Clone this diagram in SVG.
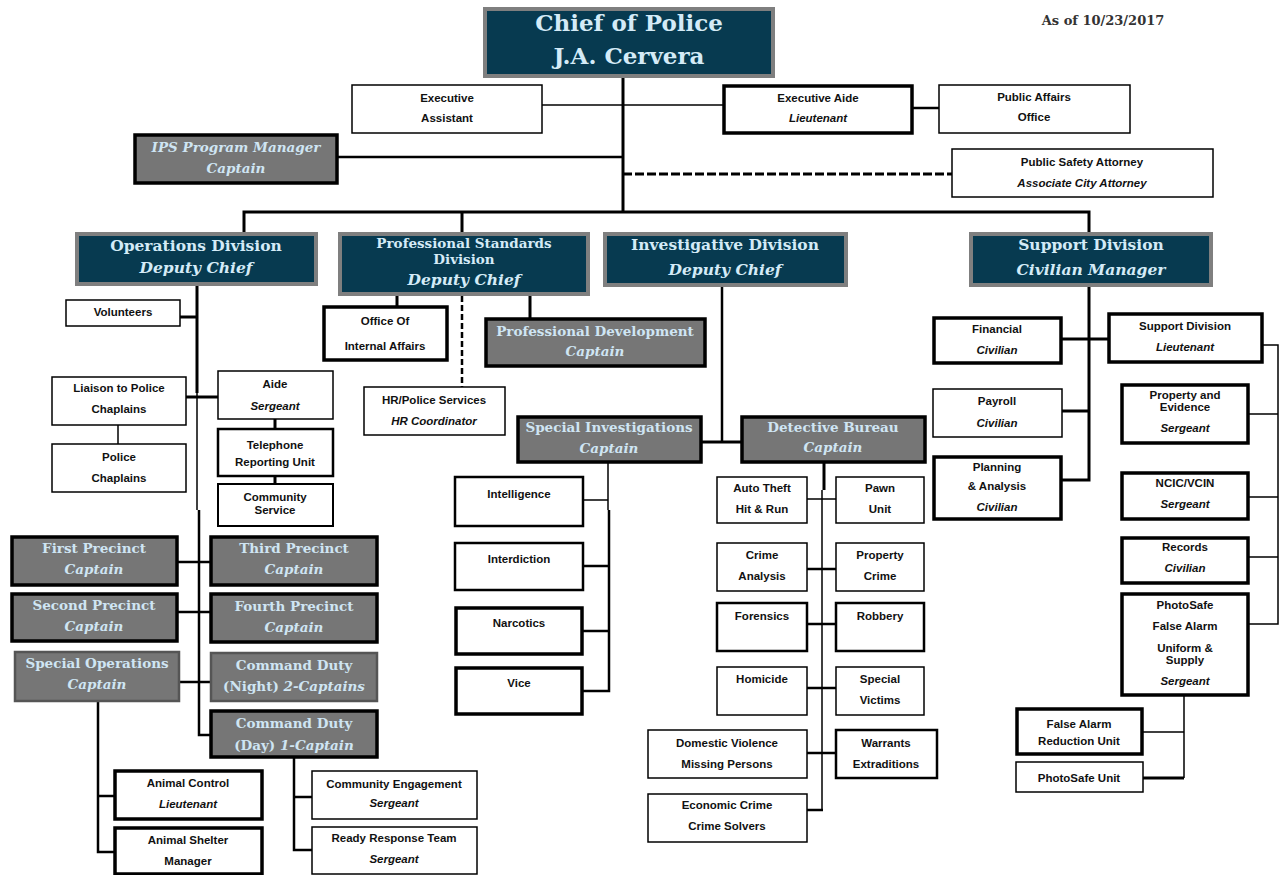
<svg xmlns="http://www.w3.org/2000/svg" width="1279" height="875" viewBox="0 0 1279 875">
<style>
.bg{fill:#fff}
.n{fill:#073a50;stroke:#7f7f7f;stroke-width:4}
.g{fill:#767676;stroke:#000;stroke-width:3.5}
.gt{fill:#767676;stroke:#555;stroke-width:2.5}
.w{fill:#fff;stroke:#000;stroke-width:1.5}
.wk{fill:#fff;stroke:#000;stroke-width:3.5}
.c{fill:none;stroke:#000;stroke-width:2.5}
.ct{fill:none;stroke:#000;stroke-width:1.5}
.ck{fill:none;stroke:#000;stroke-width:3}
.d{fill:none;stroke:#000;stroke-width:3;stroke-dasharray:9 3}
.dv{fill:none;stroke:#000;stroke-width:2.5;stroke-dasharray:6 3}
text{text-anchor:middle}
.tn{font-family:"DejaVu Serif",serif;font-weight:bold;fill:#d4ebf7;font-size:15.5px}
.tg{font-family:"DejaVu Serif",serif;font-weight:bold;fill:#cfe5f3;font-size:13.5px}
.i{font-style:italic}
.s{font-family:"Liberation Sans",Arial,sans-serif;font-weight:bold;font-size:11.5px;fill:#111}
</style>
<rect class="bg" x="0" y="0" width="1279" height="875"/>
<text x="1103" y="25" style="font-family:'DejaVu Serif',serif;font-weight:bold;font-size:13px;fill:#333">As of 10/23/2017</text>

<g id="connectors">
<path class="ck" d="M623,78 V212"/>
<path class="ct" d="M542,105 H723"/>
<path class="c" d="M913,108 H939"/>
<path class="c" d="M338,157 H623"/>
<path class="d" d="M623,174 H952"/>
<path class="ck" d="M244,232 V212 H1089 V232 M462,212 V232"/>
<path class="ck" d="M197,286 V393"/>
<path class="ct" d="M197,393 V510"/>
<path class="c" d="M199,510 V735 H210"/>
<path class="ck" d="M180,317 H197"/>
<path class="ck" d="M186,397 H218"/>
<path class="ct" d="M118,425 V444"/>
<path class="ck" d="M275,419 V429 M275,476 V484"/>
<path class="c" d="M178,562 H210 M178,612 H210 M180,682 H210"/>
<path class="c" d="M98,702 V852 H114 M98,796 H114"/>
<path class="c" d="M294,758 V850 H312 M294,797 H312"/>
<path class="ck" d="M397,296 V306 M530,296 V318"/>
<path class="dv" d="M462,296 V387"/>
<path class="c" d="M722,287 V442"/>
<path class="ck" d="M702,442 H741"/>
<path class="ct" d="M608,463 V510"/>
<path class="c" d="M609,510 V691 H583 M583,566 H609 M583,631 H609"/>
<path class="ct" d="M583,500 H608"/>
<path class="ck" d="M824,463 V490"/>
<path class="ct" d="M822,490 V810 M807,499 H836"/>
<path class="c" d="M807,569 H836 M807,624 H836 M807,688 H836 M807,753 H836 M807,810 H823"/>
<path class="ck" d="M1089,287 V480 H1062 M1062,339 H1108 M1062,411 H1089"/>
<path class="ct" d="M1263,345 H1278 V624 H1249 M1249,414 H1278 M1249,497 H1278 M1249,557 H1278"/>
<path class="ct" d="M1184,696 V778 M1143,732 H1184"/>
<path class="ck" d="M1143,778 H1184"/>
</g>

<g id="chief"><rect class="n" x="485" y="9" width="288" height="67"/>
<text class="tn" x="629" y="31" style="font-size:23px">Chief of Police</text>
<text class="tn" x="629" y="64" style="font-size:23px">J.A. Cervera</text></g>

<g id="exec-assistant"><rect class="w" x="352" y="85" width="190" height="48"/>
<text class="s" x="447" y="102">Executive</text><text class="s" x="447" y="122">Assistant</text></g>
<g id="exec-aide"><rect class="wk" x="724" y="86" width="188" height="47"/>
<text class="s" x="818" y="102">Executive Aide</text><text class="s i" x="818" y="122">Lieutenant</text></g>
<g id="public-affairs"><rect class="w" x="939" y="85" width="191" height="48"/>
<text class="s" x="1034" y="101">Public Affairs</text><text class="s" x="1034" y="121">Office</text></g>
<g id="public-safety-attorney"><rect class="w" x="952" y="149" width="261" height="48"/>
<text class="s" x="1082" y="166">Public Safety Attorney</text><text class="s i" x="1082" y="187">Associate City Attorney</text></g>
<g id="ips"><rect class="g" x="135" y="135" width="202" height="48"/>
<text class="tg i" x="236" y="152">IPS Program Manager</text><text class="tg i" x="236" y="173">Captain</text></g>

<g id="operations"><rect class="n" x="77" y="234" width="239" height="50"/>
<text class="tn" x="196" y="251">Operations Division</text><text class="tn i" x="196" y="273">Deputy Chief</text></g>
<g id="professional-standards"><rect class="n" x="340" y="234" width="248" height="60"/>
<text class="tn" x="464" y="248" style="font-size:13.5px">Professional Standards</text>
<text class="tn" x="464" y="264" style="font-size:13.5px">Division</text>
<text class="tn i" x="464" y="285">Deputy Chief</text></g>
<g id="investigative"><rect class="n" x="605" y="234" width="241" height="51"/>
<text class="tn" x="725" y="250">Investigative Division</text><text class="tn i" x="725" y="275">Deputy Chief</text></g>
<g id="support"><rect class="n" x="971" y="234" width="240" height="51"/>
<text class="tn" x="1091" y="250">Support Division</text><text class="tn i" x="1091" y="275">Civilian Manager</text></g>

<g id="volunteers"><rect class="w" x="66" y="300" width="114" height="26"/><text class="s" x="123" y="316">Volunteers</text></g>
<g id="liaison"><rect class="w" x="52" y="377" width="134" height="48"/>
<text class="s" x="119" y="392">Liaison to Police</text><text class="s" x="119" y="413">Chaplains</text></g>
<g id="aide"><rect class="w" x="218" y="371" width="115" height="48"/>
<text class="s" x="275" y="388">Aide</text><text class="s i" x="275" y="410">Sergeant</text></g>
<g id="police-chaplains"><rect class="w" x="52" y="444" width="134" height="48"/>
<text class="s" x="119" y="461">Police</text><text class="s" x="119" y="482">Chaplains</text></g>
<g id="telephone"><rect class="w" x="218" y="429" width="115" height="47" style="stroke-width:2.5"/>
<text class="s" x="275" y="449">Telephone</text><text class="s" x="275" y="466">Reporting Unit</text></g>
<g id="community-service"><rect class="w" x="218" y="484" width="115" height="42" style="stroke-width:2"/>
<text class="s" x="275" y="501">Community</text><text class="s" x="275" y="514">Service</text></g>

<g id="first-precinct"><rect class="g" x="12" y="537" width="165" height="48"/>
<text class="tg" x="94" y="553">First Precinct</text><text class="tg i" x="94" y="574">Captain</text></g>
<g id="third-precinct"><rect class="g" x="211" y="537" width="166" height="48"/>
<text class="tg" x="294" y="553">Third Precinct</text><text class="tg i" x="294" y="574">Captain</text></g>
<g id="second-precinct"><rect class="g" x="12" y="594" width="165" height="47"/>
<text class="tg" x="94" y="610">Second Precinct</text><text class="tg i" x="94" y="631">Captain</text></g>
<g id="fourth-precinct"><rect class="g" x="211" y="594" width="166" height="48"/>
<text class="tg" x="294" y="611">Fourth Precinct</text><text class="tg i" x="294" y="632">Captain</text></g>
<g id="special-operations"><rect class="gt" x="15" y="652" width="164" height="49"/>
<text class="tg" x="97" y="668">Special Operations</text><text class="tg i" x="97" y="689">Captain</text></g>
<g id="command-night"><rect class="gt" x="211" y="653" width="166" height="48"/>
<text class="tg" x="294" y="670">Command Duty</text><text class="tg" x="294" y="691">(Night) <tspan class="i">2-Captains</tspan></text></g>
<g id="command-day"><rect class="g" x="211" y="711" width="166" height="46"/>
<text class="tg" x="294" y="728">Command Duty</text><text class="tg" x="294" y="750">(Day) <tspan class="i">1-Captain</tspan></text></g>

<g id="animal-control"><rect class="wk" x="115" y="771" width="147" height="48"/>
<text class="s" x="188" y="787">Animal Control</text><text class="s i" x="188" y="808">Lieutenant</text></g>
<g id="animal-shelter"><rect class="wk" x="115" y="828" width="147" height="46"/>
<text class="s" x="188" y="844">Animal Shelter</text><text class="s" x="188" y="865">Manager</text></g>
<g id="community-engagement"><rect class="w" x="312" y="771" width="165" height="48"/>
<text class="s" x="394" y="788">Community Engagement</text><text class="s i" x="394" y="807">Sergeant</text></g>
<g id="ready-response"><rect class="w" x="312" y="827" width="165" height="47"/>
<text class="s" x="394" y="842">Ready Response Team</text><text class="s i" x="394" y="863">Sergeant</text></g>

<g id="internal-affairs"><rect class="wk" x="324" y="307" width="123" height="53"/>
<text class="s" x="385" y="325">Office Of</text><text class="s" x="385" y="350">Internal Affairs</text></g>
<g id="hr"><rect class="w" x="364" y="387" width="141" height="48"/>
<text class="s" x="434" y="404">HR/Police Services</text><text class="s i" x="434" y="425">HR Coordinator</text></g>
<g id="professional-development"><rect class="g" x="486" y="319" width="219" height="47"/>
<text class="tg" x="595" y="336">Professional Development</text><text class="tg i" x="595" y="356">Captain</text></g>

<g id="special-investigations"><rect class="g" x="518" y="417" width="183" height="45"/>
<text class="tg" x="609" y="432">Special Investigations</text><text class="tg i" x="609" y="453">Captain</text></g>
<g id="detective-bureau"><rect class="g" x="742" y="417" width="183" height="45"/>
<text class="tg" x="833" y="432">Detective Bureau</text><text class="tg i" x="833" y="452">Captain</text></g>

<g id="intelligence"><rect class="w" x="455" y="477" width="128" height="49" style="stroke-width:2.5"/><text class="s" x="519" y="498">Intelligence</text></g>
<g id="interdiction"><rect class="w" x="455" y="543" width="128" height="47" style="stroke-width:2.5"/><text class="s" x="519" y="563">Interdiction</text></g>
<g id="narcotics"><rect class="wk" x="456" y="608" width="126" height="46"/><text class="s" x="519" y="627">Narcotics</text></g>
<g id="vice"><rect class="wk" x="456" y="668" width="126" height="46"/><text class="s" x="519" y="687">Vice</text></g>

<g id="auto-theft"><rect class="w" x="717" y="477" width="90" height="46"/>
<text class="s" x="762" y="492">Auto Theft</text><text class="s" x="762" y="513">Hit &amp; Run</text></g>
<g id="pawn"><rect class="w" x="836" y="477" width="88" height="46"/>
<text class="s" x="880" y="492">Pawn</text><text class="s" x="880" y="513">Unit</text></g>
<g id="crime-analysis"><rect class="w" x="717" y="543" width="90" height="48"/>
<text class="s" x="762" y="559">Crime</text><text class="s" x="762" y="580">Analysis</text></g>
<g id="property-crime"><rect class="w" x="836" y="543" width="88" height="48"/>
<text class="s" x="880" y="559">Property</text><text class="s" x="880" y="580">Crime</text></g>
<g id="forensics"><rect class="w" x="717" y="603" width="90" height="48" style="stroke-width:2.5"/><text class="s" x="762" y="620">Forensics</text></g>
<g id="robbery"><rect class="w" x="836" y="603" width="88" height="48" style="stroke-width:2.5"/><text class="s" x="880" y="620">Robbery</text></g>
<g id="homicide"><rect class="w" x="717" y="667" width="90" height="48"/><text class="s" x="762" y="683">Homicide</text></g>
<g id="special-victims"><rect class="w" x="836" y="667" width="88" height="48"/>
<text class="s" x="880" y="683">Special</text><text class="s" x="880" y="704">Victims</text></g>
<g id="domestic-violence"><rect class="w" x="648" y="730" width="159" height="48"/>
<text class="s" x="727" y="747">Domestic Violence</text><text class="s" x="727" y="768">Missing Persons</text></g>
<g id="warrants"><rect class="w" x="836" y="730" width="101" height="48" style="stroke-width:2.5"/>
<text class="s" x="886" y="747">Warrants</text><text class="s" x="886" y="768">Extraditions</text></g>
<g id="economic-crime"><rect class="w" x="648" y="794" width="159" height="48"/>
<text class="s" x="727" y="809">Economic Crime</text><text class="s" x="727" y="830">Crime Solvers</text></g>

<g id="financial"><rect class="wk" x="934" y="318" width="127" height="45"/>
<text class="s" x="997" y="333">Financial</text><text class="s i" x="997" y="354">Civilian</text></g>
<g id="support-lieutenant"><rect class="wk" x="1109" y="314" width="153" height="48"/>
<text class="s" x="1185" y="330">Support Division</text><text class="s i" x="1185" y="351">Lieutenant</text></g>
<g id="payroll"><rect class="w" x="933" y="389" width="129" height="48"/>
<text class="s" x="997" y="405">Payroll</text><text class="s i" x="997" y="427">Civilian</text></g>
<g id="planning"><rect class="wk" x="934" y="457" width="127" height="62"/>
<text class="s" x="997" y="471">Planning</text><text class="s" x="997" y="490">&amp; Analysis</text><text class="s i" x="997" y="511">Civilian</text></g>
<g id="property-evidence"><rect class="wk" x="1122" y="385" width="126" height="58"/>
<text class="s" x="1185" y="399">Property and</text><text class="s" x="1185" y="411">Evidence</text><text class="s i" x="1185" y="432">Sergeant</text></g>
<g id="ncic"><rect class="wk" x="1122" y="473" width="126" height="46"/>
<text class="s" x="1185" y="487">NCIC/VCIN</text><text class="s i" x="1185" y="508">Sergeant</text></g>
<g id="records"><rect class="wk" x="1122" y="538" width="126" height="45"/>
<text class="s" x="1185" y="551">Records</text><text class="s i" x="1185" y="572">Civilian</text></g>
<g id="photosafe"><rect class="wk" x="1122" y="594" width="126" height="101"/>
<text class="s" x="1185" y="609">PhotoSafe</text><text class="s" x="1185" y="630">False Alarm</text><text class="s" x="1185" y="652">Uniform &amp;</text><text class="s" x="1185" y="664">Supply</text><text class="s i" x="1185" y="685">Sergeant</text></g>
<g id="false-alarm-unit"><rect class="wk" x="1017" y="709" width="125" height="45"/>
<text class="s" x="1079" y="728">False Alarm</text><text class="s" x="1079" y="745">Reduction Unit</text></g>
<g id="photosafe-unit"><rect class="w" x="1016" y="762" width="127" height="30"/><text class="s" x="1079" y="782">PhotoSafe Unit</text></g>
</svg>
